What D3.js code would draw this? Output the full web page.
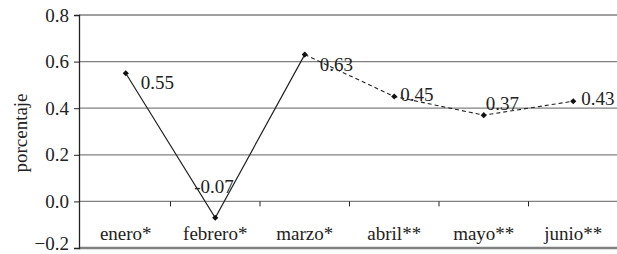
<!DOCTYPE html>
<html>
<head>
<meta charset="utf-8">
<script src="https://cdn.jsdelivr.net/npm/d3@7"></script>
<style>
body { margin: 0; background: #fff; }
</style>
</head>
<body>
<svg id="chart" width="617" height="254"></svg>
<script>
var months = ["enero*", "febrero*", "marzo*", "abril**", "mayo**", "junio**"];
var values = [0.55, -0.07, 0.63, 0.45, 0.37, 0.43];
var valueLabels = ["0.55", "-0.07", "0.63", "0.45", "0.37", "0.43"];
var yTicks = [-0.2, 0, 0.2, 0.4, 0.6, 0.8];

var svg = d3.select("#chart");
var fs = "19px";
var ff = "'Liberation Serif', 'Times New Roman', serif";

var x = d3.scaleBand().domain(months).range([81, 618]);
var y = d3.scaleLinear().domain([-0.2, 0.8]).range([248, 15]);
var axisX = 79;

// gridlines
svg.append("g").selectAll("line")
    .data(yTicks)
    .enter().append("line")
    .attr("x1", axisX).attr("x2", 617)
    .attr("y1", function(d) { return y(d); })
    .attr("y2", function(d) { return y(d); })
    .attr("stroke", "#808080")
    .attr("stroke-width", function(d) { return d === -0.2 ? 2.5 : 1.3; });

// y axis
var yAxis = d3.axisLeft(y).tickValues(yTicks).tickSize(5).tickPadding(5)
    .tickFormat(d3.format(".1f"));
var gy = svg.append("g").attr("transform", "translate(" + axisX + ",0)").call(yAxis);
gy.select(".domain").attr("stroke", "#222").attr("stroke-width", 1.3);
gy.selectAll(".tick line").attr("stroke", "#222");
gy.selectAll(".tick text")
    .style("font-size", fs).style("font-family", ff).attr("fill", "#222")
    .attr("dy", function(d) { return d === -0.2 ? "0.1em" : "0.32em"; });

// category ticks on zero line
svg.append("g").selectAll("line")
    .data(months.slice(1))
    .enter().append("line")
    .attr("x1", function(d) { return x(d); })
    .attr("x2", function(d) { return x(d); })
    .attr("y1", y(0)).attr("y2", y(0) + 5)
    .attr("stroke", "#222");

// category labels
svg.append("g").selectAll("text")
    .data(months)
    .enter().append("text")
    .attr("x", function(d) { return x(d) + x.bandwidth() / 2; })
    .attr("y", 240)
    .attr("text-anchor", "middle")
    .attr("fill", "#222")
    .style("font-size", fs).style("font-family", ff)
    .text(function(d) { return d; });

// y title
svg.append("text")
    .attr("transform", "translate(27,133) rotate(-90)")
    .attr("text-anchor", "middle")
    .attr("fill", "#222")
    .style("font-size", fs).style("font-family", ff)
    .text("porcentaje");

var pts = months.map(function(m, i) { return { m: m, v: values[i], lab: valueLabels[i] }; });
var line = d3.line()
    .x(function(d) { return x(d.m) + x.bandwidth() / 2; })
    .y(function(d) { return y(d.v); });

svg.append("path").datum(pts.slice(0, 3))
    .attr("d", line).attr("fill", "none").attr("stroke", "#222").attr("stroke-width", 1.2);
svg.append("path").datum(pts.slice(2))
    .attr("d", line).attr("fill", "none").attr("stroke", "#222").attr("stroke-width", 1.1)
    .attr("stroke-dasharray", "4,3");

svg.append("g").selectAll("path")
    .data(pts)
    .enter().append("path")
    .attr("d", d3.symbol().type(d3.symbolDiamond2).size(24))
    .attr("transform", function(d) { return "translate(" + line.x()(d) + "," + line.y()(d) + ")"; })
    .attr("fill", "#111");

// value labels
var labOffset = [[15, 16], [-21, -25], [15, 16], [6, 4], [2, -5], [8, 4]];
svg.append("g").selectAll("text")
    .data(pts)
    .enter().append("text")
    .attr("x", function(d, i) { return line.x()(d) + labOffset[i][0]; })
    .attr("y", function(d, i) { return line.y()(d) + labOffset[i][1]; })
    .attr("fill", "#222")
    .style("font-size", fs).style("font-family", ff)
    .text(function(d) { return d.lab; });
</script>
</body>
</html>
